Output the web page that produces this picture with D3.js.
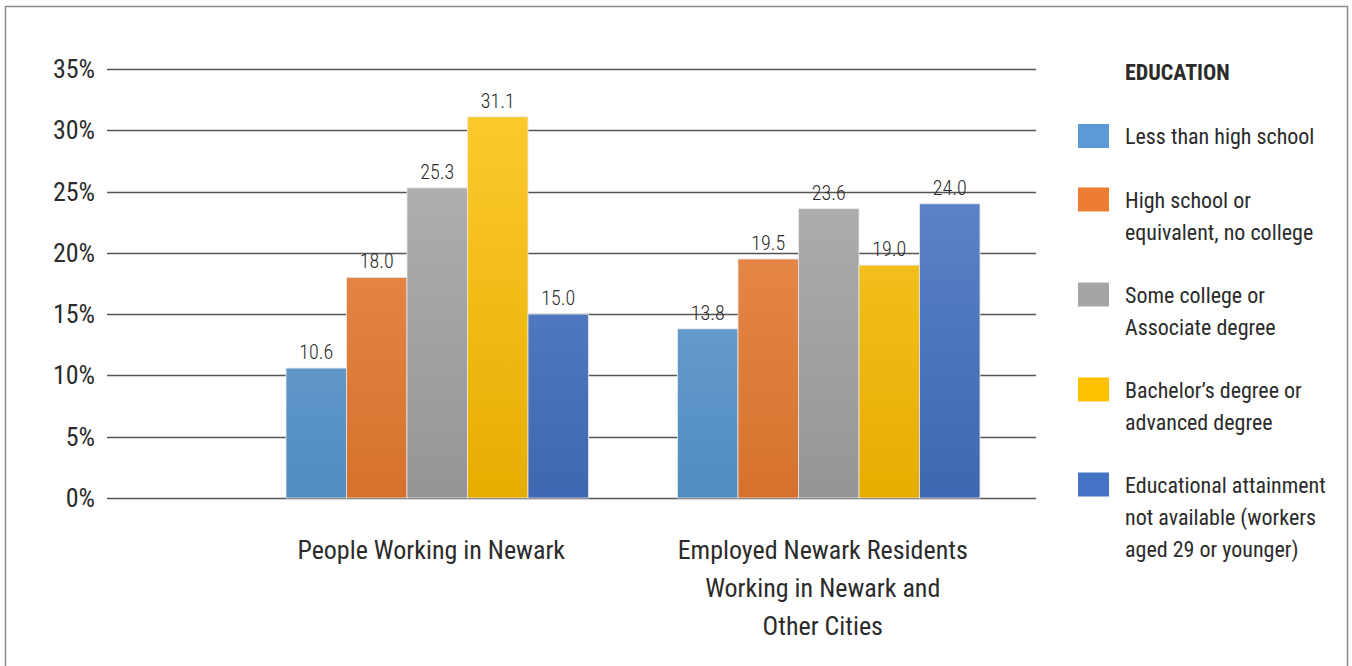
<!DOCTYPE html>
<html>
<head>
<meta charset="utf-8">
<script src="https://cdn.jsdelivr.net/npm/d3@7"></script>
<style>
  body { margin: 0; background: #fff; }
  svg text { font-family: "Liberation Sans Narrow", "Roboto Condensed", "DejaVu Sans Condensed", sans-serif; fill: #2b2b2b; }
</style>
</head>
<body>
<svg width="1352" height="666"></svg>
<script>
var svg = d3.select("svg"),
    width = +svg.attr("width"),
    height = +svg.attr("height");

// data
var groups = ["People Working in Newark", "Employed Newark Residents Working in Newark and Other Cities"];
var groupLines = [["People Working in Newark"], ["Employed Newark Residents", "Working in Newark and", "Other Cities"]];
var seriesNames = ["Less than high school", "High school or equivalent, no college", "Some college or Associate degree", "Bachelor\u2019s degree or advanced degree", "Educational attainment not available (workers aged 29 or younger)"];
var legendLines = [["Less than high school"], ["High school or", "equivalent, no college"], ["Some college or", "Associate degree"], ["Bachelor\u2019s degree or", "advanced degree"], ["Educational attainment", "not available (workers", "aged 29 or younger)"]];
var workingInNewark = [10.6, 18.0, 25.3, 31.1, 15.0];
var residentsEmployed = [13.8, 19.5, 23.6, 19.0, 24.0];
var yTicks = [0, 5, 10, 15, 20, 25, 30, 35];

var colors = ["#5b9bd5", "#ed7d31", "#a5a5a5", "#ffc000", "#4472c4"];
var values = [workingInNewark, residentsEmployed];

// frame
svg.append("rect")
  .attr("x", 5.5).attr("y", 6.5)
  .attr("width", 1342).attr("height", 700)
  .attr("fill", "none").attr("stroke", "#8a8a8a").attr("stroke-width", 1.5);

// gradients for bars (lighter top, darker bottom)
var defs = svg.append("defs");
colors.forEach(function(c, i) {
  var g = defs.append("linearGradient")
    .attr("id", "grad" + i)
    .attr("gradientUnits", "userSpaceOnUse")
    .attr("x1", 0).attr("x2", 0).attr("y1", 69).attr("y2", 498);
  g.append("stop").attr("offset", "0%").attr("stop-color", d3.interpolateRgb(c, "#fff")(0.2));
  g.append("stop").attr("offset", "100%").attr("stop-color", d3.interpolateRgb(c, "#000")(0.1));
});

var y = d3.scaleLinear().domain([0, 35]).range([498, 69]);
var x0 = d3.scaleBand().domain(groups).range([241.5, 1024.5]);
var x1 = d3.scaleBand().domain(d3.range(5)).range([44.5, 347]);

// gridlines + tick labels
var grid = svg.append("g");
grid.selectAll("line").data(yTicks).enter().append("line")
  .attr("x1", 107).attr("x2", 1036)
  .attr("y1", function(d) { return Math.round(y(d)) + 0.5; })
  .attr("y2", function(d) { return Math.round(y(d)) + 0.5; })
  .attr("stroke", "#555").attr("stroke-width", 1.3);
grid.selectAll("text").data(yTicks).enter().append("text")
  .attr("x", 95).attr("y", function(d) { return y(d) + 9; })
  .attr("text-anchor", "end")
  .style("font-size", "26px")
  .text(function(d) { return d + "%"; });

// bars
var gg = svg.selectAll(".grp").data(groups).enter().append("g")
  .attr("class", "grp")
  .attr("transform", function(d) { return "translate(" + x0(d) + ",0)"; });

gg.selectAll("rect").data(function(d, i) { return values[i]; }).enter().append("rect")
  .attr("x", function(d, i) { return x1(i); })
  .attr("y", function(d) { return y(d); })
  .attr("width", x1.bandwidth())
  .attr("height", function(d) { return y(0) - y(d); })
  .attr("fill", function(d, i) { return "url(#grad" + i + ")"; })
  .attr("stroke", "#e8e8e8").attr("stroke-width", 0.8);

gg.selectAll("text.val").data(function(d, i) { return values[i]; }).enter().append("text")
  .attr("class", "val")
  .attr("x", function(d, i) { return x1(i) + x1.bandwidth() / 2; })
  .attr("y", function(d) { return y(d) - 9; })
  .attr("text-anchor", "middle")
  .style("font-size", "20px")
  .style("font-weight", "300")
  .text(function(d) { return d.toFixed(1); });

// category labels
gg.append("text")
  .attr("text-anchor", "middle")
  .style("font-size", "26px")
  .selectAll("tspan").data(function(d, i) { return groupLines[i]; }).enter().append("tspan")
  .attr("x", x0.bandwidth() / 2 - 6)
  .attr("y", function(d, i) { return 559 + i * 38; })
  .text(function(d) { return d; });

// legend
var legend = svg.append("g");
legend.append("text")
  .attr("x", 1125).attr("y", 80)
  .style("font-size", "22px").style("font-weight", "bold")
  .text("EDUCATION");

var itemY = [];
var cy = 136;
legendLines.forEach(function(l) { itemY.push(cy); cy += l.length * 31.5 + 32; });

var items = legend.selectAll(".item").data(seriesNames).enter().append("g")
  .attr("class", "item")
  .attr("transform", function(d, i) { return "translate(0," + itemY[i] + ")"; });
items.append("rect")
  .attr("x", 1078).attr("y", -12).attr("width", 31).attr("height", 24)
  .attr("fill", function(d, i) { return colors[i]; });
items.append("text")
  .style("font-size", "22px")
  .selectAll("tspan").data(function(d, i) { return legendLines[i]; }).enter().append("tspan")
  .attr("x", 1125)
  .attr("y", function(d, i) { return 8 + i * 32; })
  .text(function(d) { return d; });
</script>
</body>
</html>
